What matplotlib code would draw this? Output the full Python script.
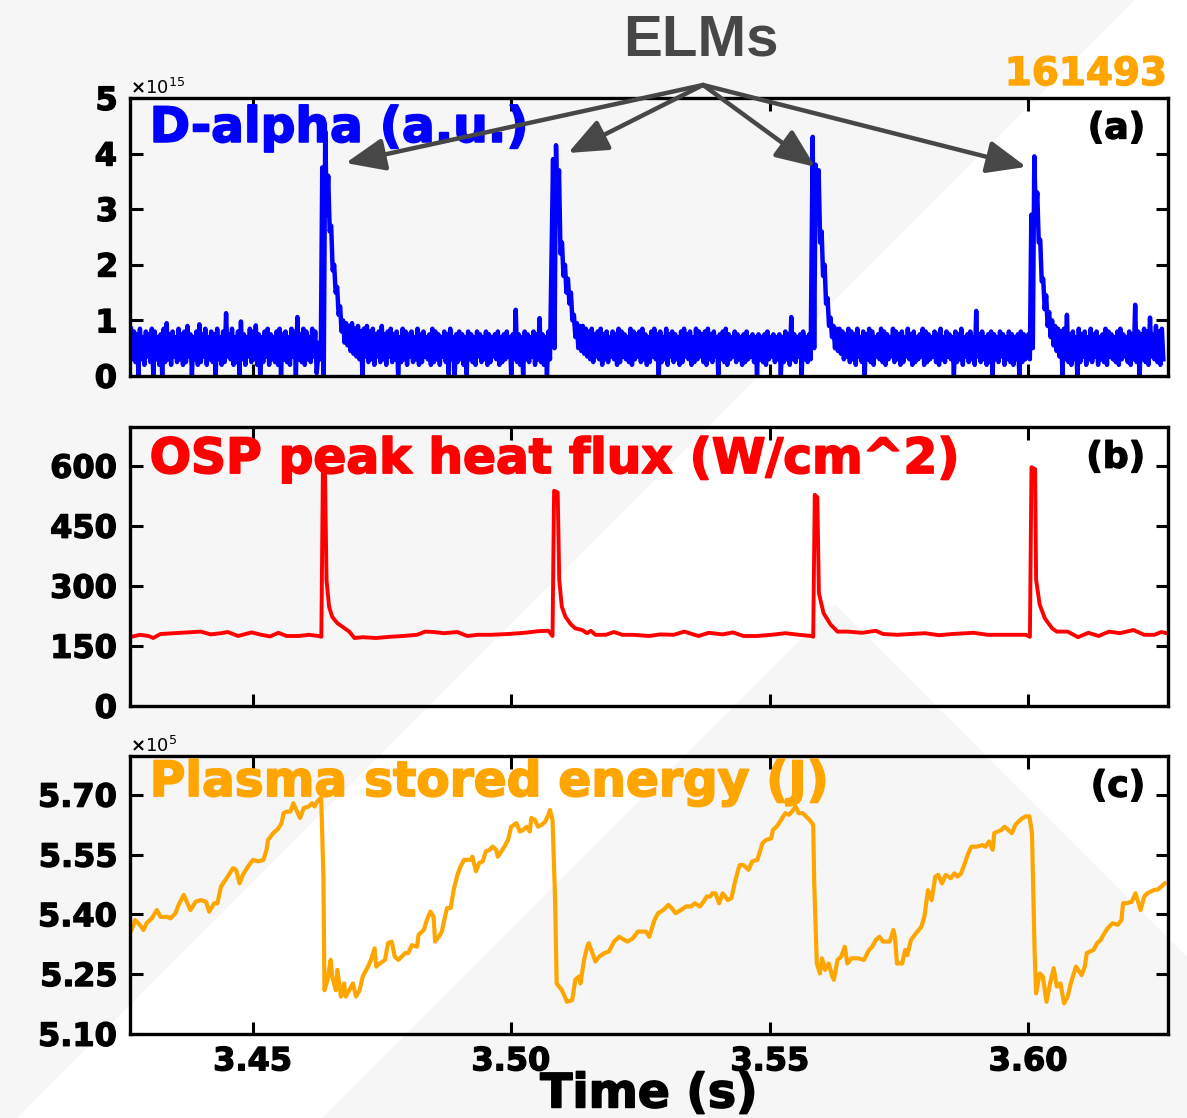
import numpy as np
import matplotlib
matplotlib.use("Agg")
import matplotlib.pyplot as plt
import matplotlib.patheffects as pe
from matplotlib.patches import Polygon

plt.rcParams['font.family'] = 'DejaVu Sans'
plt.rcParams['font.weight'] = 'bold'
plt.rcParams['axes.formatter.use_mathtext'] = True

# --- D-alpha (x1e15, a.u.): upper / lower edge of the fast trace, per segment ---
da_spans = [(3.4265, 3.4624), (3.4629, 3.5075), (3.5081, 3.5579),
            (3.5583, 3.5994), (3.6000, 3.6261)]
da_hi0 = [0.85, 0.80, 0.75, 0.85, 0.70, 0.80, 0.75, 0.85, 0.80, 0.70,
          0.75, 0.85, 0.95, 0.75, 0.80, 0.70, 0.85, 0.75, 0.80, 0.90,
          0.75, 0.70, 0.80, 0.93, 0.75, 0.85, 0.70, 0.80, 0.75, 0.85,
          0.70, 0.80, 1.13, 0.75, 0.85, 0.70, 0.80, 0.98, 0.75, 0.70,
          0.85, 0.80, 0.91, 0.75, 0.70, 0.80, 0.85, 0.75, 0.70, 0.80,
          0.85, 0.75, 0.80, 0.70, 0.85, 0.80, 1.06, 0.75, 0.85, 0.80,
          0.70, 0.85, 0.80]
da_lo0 = [0.30, 0.25, 0.02, 0.30, 0.20, 0.35, 0.25, 0.02, 0.30, 0.20,
          0.02, 0.25, 0.30, 0.20, 0.35, 0.25, 0.30, 0.20, 0.25, 0.35,
          0.02, 0.30, 0.20, 0.25, 0.35, 0.20, 0.30, 0.25, 0.02, 0.30,
          0.20, 0.25, 0.35, 0.30, 0.20, 0.25, 0.02, 0.30, 0.20, 0.35,
          0.25, 0.30, 0.20, 0.02, 0.25, 0.35, 0.20, 0.30, 0.25, 0.20,
          0.02, 0.30, 0.25, 0.20, 0.35, 0.02, 0.30, 0.25, 0.20, 0.30,
          0.25, 0.35, 0.05]
da_hi1 = [0.60, 3.75, 4.40, 3.60, 2.70, 2.00, 1.60, 1.25, 1.00, 0.95,
          0.90, 0.95, 0.85, 0.90, 0.80, 0.85, 0.90, 0.80, 0.85, 0.75,
          0.80, 0.90, 0.75, 0.80, 0.85, 0.75, 0.80, 0.70, 0.85, 0.80,
          0.75, 0.80, 0.70, 0.85, 0.75, 0.80, 0.70, 0.75, 0.85, 0.80,
          0.75, 0.70, 0.80, 0.75, 0.85, 0.70, 0.75, 0.80, 0.75, 0.70,
          0.80, 0.75, 0.70, 0.80, 0.75, 0.70, 0.80, 0.75, 0.70, 0.75,
          0.80, 0.70, 0.75, 0.80, 0.70, 0.75, 1.19, 0.75, 0.70, 0.80,
          0.75, 0.70, 0.80, 0.75, 1.04, 0.75, 0.70, 0.80]
da_lo1 = [0.30, 0.02, 2.90, 2.60, 1.90, 1.50, 1.10, 0.80, 0.60, 0.55,
          0.45, 0.40, 0.35, 0.30, 0.02, 0.35, 0.25, 0.30, 0.20, 0.35,
          0.25, 0.30, 0.20, 0.35, 0.25, 0.30, 0.02, 0.25, 0.30, 0.20,
          0.35, 0.25, 0.30, 0.20, 0.25, 0.35, 0.30, 0.20, 0.25, 0.30,
          0.20, 0.35, 0.25, 0.03, 0.30, 0.02, 0.25, 0.30, 0.20, 0.03,
          0.30, 0.25, 0.20, 0.35, 0.25, 0.30, 0.20, 0.25, 0.35, 0.30,
          0.20, 0.25, 0.30, 0.35, 0.02, 0.30, 0.25, 0.20, 0.02, 0.30,
          0.25, 0.35, 0.20, 0.30, 0.25, 0.20, 0.02, 0.30]
da_hi2 = [3.90, 4.15, 3.70, 2.40, 2.00, 1.75, 1.50, 1.10, 0.95, 0.90,
          0.90, 0.85, 0.80, 0.85, 0.75, 0.80, 0.85, 0.75, 0.80, 0.70,
          0.80, 0.75, 0.85, 0.80, 0.75, 0.70, 0.85, 0.80, 0.75, 0.80,
          0.85, 0.75, 0.70, 0.80, 0.85, 0.75, 0.80, 0.70, 0.85, 0.75,
          0.80, 0.75, 0.70, 0.80, 0.85, 0.75, 0.80, 0.70, 0.85, 0.80,
          0.75, 0.80, 0.85, 0.75, 0.80, 0.70, 0.75, 0.80, 0.85, 0.75,
          0.70, 0.80, 0.75, 0.70, 0.75, 0.80, 0.70, 0.75, 0.70, 0.75,
          0.70, 0.75, 0.80, 0.70, 0.75, 0.70, 0.75, 0.70, 0.80, 0.75,
          1.06, 0.75, 0.70, 0.75, 0.80, 0.70, 0.75]
da_lo2 = [0.50, 3.00, 2.20, 1.80, 1.50, 1.30, 1.00, 0.70, 0.50, 0.45,
          0.40, 0.35, 0.30, 0.25, 0.35, 0.30, 0.20, 0.30, 0.25, 0.35,
          0.30, 0.20, 0.25, 0.35, 0.30, 0.25, 0.20, 0.30, 0.35, 0.25,
          0.30, 0.20, 0.25, 0.35, 0.30, 0.02, 0.25, 0.30, 0.20, 0.35,
          0.25, 0.30, 0.20, 0.25, 0.35, 0.30, 0.20, 0.25, 0.30, 0.35,
          0.25, 0.20, 0.30, 0.25, 0.35, 0.02, 0.30, 0.25, 0.20, 0.30,
          0.35, 0.25, 0.30, 0.20, 0.25, 0.30, 0.35, 0.25, 0.02, 0.30,
          0.25, 0.20, 0.30, 0.35, 0.25, 0.30, 0.02, 0.25, 0.30, 0.20,
          0.30, 0.25, 0.35, 0.02, 0.30, 0.25, 0.30]
da_hi3 = [4.30, 3.80, 3.70, 2.60, 2.00, 1.40, 1.05, 0.90, 0.85, 0.85,
          0.80, 0.75, 0.85, 0.80, 0.75, 0.85, 0.70, 0.80, 0.75, 0.85,
          0.80, 0.70, 0.75, 0.85, 0.80, 0.75, 0.70, 0.85, 0.80, 0.75,
          0.80, 0.70, 0.85, 0.75, 0.80, 0.70, 0.75, 0.85, 0.80, 0.75,
          0.70, 0.80, 0.75, 0.85, 0.70, 0.80, 0.75, 0.70, 0.80, 0.75,
          0.85, 0.70, 0.75, 0.80, 0.70, 1.17, 0.75, 0.80, 0.70, 0.75,
          0.80, 0.75, 0.70, 0.80, 0.75, 0.70, 0.80, 0.75, 0.70, 0.75,
          0.80, 0.75]
da_lo3 = [0.50, 3.00, 2.40, 1.80, 1.30, 0.90, 0.70, 0.50, 0.45, 0.40,
          0.30, 0.35, 0.25, 0.30, 0.20, 0.35, 0.25, 0.02, 0.30, 0.25,
          0.20, 0.35, 0.30, 0.25, 0.20, 0.30, 0.35, 0.25, 0.30, 0.20,
          0.25, 0.35, 0.30, 0.20, 0.25, 0.30, 0.35, 0.20, 0.25, 0.30,
          0.35, 0.25, 0.20, 0.30, 0.25, 0.35, 0.30, 0.02, 0.25, 0.30,
          0.20, 0.35, 0.25, 0.30, 0.20, 0.35, 0.25, 0.30, 0.20, 0.25,
          0.02, 0.30, 0.25, 0.35, 0.20, 0.30, 0.25, 0.20, 0.30, 0.02,
          0.25, 0.30]
da_hi4 = [0.75, 2.90, 3.95, 3.30, 2.45, 1.75, 1.45, 1.15, 1.00, 0.90,
          0.85, 0.80, 0.85, 1.10, 0.75, 0.80, 0.70, 0.85, 0.75, 0.80,
          0.70, 0.85, 0.75, 0.80, 0.70, 0.75, 0.85, 0.80, 0.75, 0.70,
          0.80, 0.85, 0.75, 0.70, 0.80, 0.75, 1.28, 0.80, 0.75, 0.85,
          0.80, 1.05, 0.75, 0.90, 0.80, 0.85]
da_lo4 = [0.30, 0.50, 2.90, 2.40, 1.70, 1.20, 0.90, 0.70, 0.55, 0.45,
          0.35, 0.02, 0.30, 0.25, 0.20, 0.30, 0.02, 0.25, 0.35, 0.20,
          0.30, 0.25, 0.35, 0.20, 0.30, 0.25, 0.20, 0.35, 0.30, 0.25,
          0.20, 0.30, 0.35, 0.25, 0.20, 0.30, 0.25, 0.02, 0.30, 0.25,
          0.20, 0.35, 0.30, 0.25, 0.20, 0.30]
da_hi = [da_hi0, da_hi1, da_hi2, da_hi3, da_hi4]
da_lo = [da_lo0, da_lo1, da_lo2, da_lo3, da_lo4]

# --- OSP peak heat flux (W/cm^2) ---
hf_t = [3.4266, 3.4282, 3.4299, 3.4308, 3.4322, 3.4348, 3.4374, 3.4400, 3.4419, 3.4439,
        3.4452, 3.4472, 3.4498, 3.4517, 3.4534, 3.4550, 3.4566, 3.4589, 3.4609, 3.4628,
        3.4633, 3.4636, 3.4640, 3.4643, 3.4648, 3.4654, 3.4664, 3.4674, 3.4687, 3.4697,
        3.4713, 3.4739, 3.4765, 3.4791, 3.4818, 3.4834, 3.4850, 3.4870, 3.4896, 3.4915,
        3.4935, 3.4961, 3.4994, 3.5026, 3.5052, 3.5072, 3.5080, 3.5083, 3.5090, 3.5093,
        3.5098, 3.5105, 3.5115, 3.5124, 3.5137, 3.5147, 3.5154, 3.5163, 3.5183, 3.5199,
        3.5215, 3.5235, 3.5267, 3.5288, 3.5314, 3.5335, 3.5362, 3.5382, 3.5409, 3.5429,
        3.5449, 3.5476, 3.5503, 3.5530, 3.5557, 3.5581, 3.5584, 3.5587, 3.5592, 3.5595,
        3.5604, 3.5618, 3.5631, 3.5651, 3.5678, 3.5705, 3.5719, 3.5746, 3.5773, 3.5800,
        3.5827, 3.5853, 3.5894, 3.5921, 3.5954, 3.5995, 3.6003, 3.6006, 3.6013, 3.6015,
        3.6022, 3.6032, 3.6046, 3.6055, 3.6076, 3.6096, 3.6116, 3.6136, 3.6156, 3.6177,
        3.6203, 3.6224, 3.6244, 3.6257, 3.6267]
hf_q = [173, 178, 175, 170, 180, 182, 184, 186, 179, 182,
        185, 175, 184, 178, 174, 183, 175, 175, 178, 175,
        173, 595, 592, 315, 248, 223, 207, 198, 186, 170,
        172, 170, 173, 175, 178, 186, 185, 182, 185, 175,
        178, 178, 180, 183, 187, 188, 175, 538, 534, 315,
        248, 223, 205, 194, 190, 182, 188, 178, 178, 185,
        178, 178, 175, 179, 178, 186, 175, 183, 179, 184,
        175, 175, 178, 182, 178, 175, 173, 528, 522, 282,
        232, 203, 186, 186, 183, 188, 180, 178, 180, 182,
        177, 180, 183, 178, 178, 178, 173, 597, 592, 315,
        253, 219, 194, 186, 186, 172, 183, 175, 186, 182,
        190, 178, 178, 185, 182]

# --- Plasma stored energy (x1e5 J) ---
we_t = [3.4266, 3.4273, 3.4282, 3.4289, 3.4295, 3.4305, 3.4315, 3.4322, 3.4335, 3.4341,
        3.4351, 3.4357, 3.4367, 3.4374, 3.4380, 3.4390, 3.4400, 3.4410, 3.4416, 3.4426,
        3.4432, 3.4439, 3.4452, 3.4462, 3.4468, 3.4475, 3.4481, 3.4491, 3.4501, 3.4511,
        3.4521, 3.4527, 3.4530, 3.4540, 3.4547, 3.4550, 3.4556, 3.4560, 3.4566, 3.4573,
        3.4579, 3.4586, 3.4592, 3.4599, 3.4609, 3.4615, 3.4620, 3.4625, 3.4632, 3.4633,
        3.4637, 3.4639, 3.4645, 3.4651, 3.4654, 3.4661, 3.4664, 3.4671, 3.4677, 3.4680,
        3.4687, 3.4694, 3.4700, 3.4707, 3.4713, 3.4723, 3.4729, 3.4736, 3.4739, 3.4746,
        3.4756, 3.4762, 3.4769, 3.4775, 3.4782, 3.4788, 3.4795, 3.4801, 3.4808, 3.4818,
        3.4821, 3.4831, 3.4837, 3.4844, 3.4850, 3.4853, 3.4860, 3.4866, 3.4870, 3.4876,
        3.4883, 3.4889, 3.4896, 3.4902, 3.4909, 3.4915, 3.4922, 3.4925, 3.4932, 3.4938,
        3.4945, 3.4951, 3.4958, 3.4964, 3.4971, 3.4974, 3.4981, 3.4987, 3.4994, 3.5000,
        3.5010, 3.5017, 3.5023, 3.5030, 3.5036, 3.5039, 3.5046, 3.5052, 3.5059, 3.5066,
        3.5072, 3.5075, 3.5080, 3.5085, 3.5088, 3.5098, 3.5108, 3.5118, 3.5124, 3.5131,
        3.5134, 3.5141, 3.5147, 3.5150, 3.5157, 3.5163, 3.5170, 3.5180, 3.5189, 3.5199,
        3.5209, 3.5219, 3.5225, 3.5235, 3.5245, 3.5261, 3.5267, 3.5277, 3.5284, 3.5294,
        3.5304, 3.5311, 3.5318, 3.5328, 3.5338, 3.5348, 3.5355, 3.5365, 3.5372, 3.5378,
        3.5385, 3.5389, 3.5395, 3.5402, 3.5409, 3.5419, 3.5426, 3.5432, 3.5439, 3.5442,
        3.5449, 3.5459, 3.5466, 3.5476, 3.5480, 3.5486, 3.5493, 3.5503, 3.5506, 3.5513,
        3.5520, 3.5530, 3.5537, 3.5543, 3.5550, 3.5556, 3.5564, 3.5570, 3.5577, 3.5584,
        3.5586, 3.5591, 3.5597, 3.5601, 3.5607, 3.5614, 3.5621, 3.5624, 3.5631, 3.5638,
        3.5645, 3.5650, 3.5658, 3.5671, 3.5682, 3.5692, 3.5698, 3.5705, 3.5712, 3.5719,
        3.5727, 3.5732, 3.5739, 3.5742, 3.5746, 3.5756, 3.5762, 3.5766, 3.5773, 3.5783,
        3.5793, 3.5799, 3.5806, 3.5813, 3.5820, 3.5826, 3.5833, 3.5840, 3.5850, 3.5857,
        3.5863, 3.5870, 3.5877, 3.5884, 3.5890, 3.5900, 3.5911, 3.5917, 3.5924, 3.5931,
        3.5934, 3.5941, 3.5948, 3.5954, 3.5961, 3.5968, 3.5975, 3.5981, 3.5988, 3.5995,
        3.6002, 3.6007, 3.6012, 3.6015, 3.6022, 3.6028, 3.6035, 3.6042, 3.6049, 3.6055,
        3.6062, 3.6069, 3.6076, 3.6082, 3.6092, 3.6103, 3.6109, 3.6113, 3.6119, 3.6126,
        3.6133, 3.6140, 3.6143, 3.6153, 3.6163, 3.6173, 3.6180, 3.6183, 3.6190, 3.6200,
        3.6207, 3.6217, 3.6224, 3.6230, 3.6244, 3.6250, 3.6257, 3.6264]
we_w = [5.361, 5.386, 5.374, 5.361, 5.378, 5.390, 5.411, 5.394, 5.394, 5.390,
        5.403, 5.424, 5.449, 5.428, 5.411, 5.432, 5.436, 5.432, 5.407, 5.428,
        5.428, 5.470, 5.495, 5.516, 5.512, 5.478, 5.499, 5.520, 5.537, 5.533,
        5.537, 5.562, 5.587, 5.604, 5.612, 5.616, 5.629, 5.654, 5.658, 5.658,
        5.679, 5.658, 5.642, 5.667, 5.671, 5.679, 5.671, 5.683, 5.692, 5.679,
        5.495, 5.210, 5.236, 5.286, 5.244, 5.210, 5.261, 5.194, 5.227, 5.194,
        5.210, 5.227, 5.194, 5.210, 5.244, 5.269, 5.286, 5.315, 5.269, 5.277,
        5.286, 5.328, 5.332, 5.294, 5.286, 5.294, 5.303, 5.303, 5.323, 5.319,
        5.349, 5.361, 5.386, 5.407, 5.394, 5.332, 5.344, 5.357, 5.382, 5.416,
        5.416, 5.462, 5.499, 5.520, 5.537, 5.537, 5.537, 5.545, 5.508, 5.529,
        5.533, 5.558, 5.562, 5.570, 5.562, 5.545, 5.558, 5.570, 5.587, 5.620,
        5.629, 5.608, 5.612, 5.620, 5.608, 5.642, 5.637, 5.620, 5.625, 5.633,
        5.650, 5.662, 5.637, 5.436, 5.227, 5.210, 5.181, 5.185, 5.236, 5.244,
        5.227, 5.286, 5.319, 5.328, 5.303, 5.282, 5.294, 5.303, 5.307, 5.332,
        5.344, 5.336, 5.332, 5.340, 5.357, 5.357, 5.344, 5.386, 5.403, 5.411,
        5.424, 5.415, 5.403, 5.411, 5.420, 5.420, 5.428, 5.420, 5.432, 5.445,
        5.445, 5.453, 5.453, 5.428, 5.453, 5.436, 5.441, 5.478, 5.512, 5.524,
        5.524, 5.512, 5.533, 5.537, 5.554, 5.579, 5.587, 5.591, 5.612, 5.620,
        5.633, 5.654, 5.650, 5.658, 5.671, 5.654, 5.654, 5.646, 5.637, 5.625,
        5.478, 5.277, 5.252, 5.290, 5.261, 5.277, 5.244, 5.236, 5.286, 5.294,
        5.319, 5.277, 5.290, 5.290, 5.286, 5.311, 5.319, 5.336, 5.344, 5.332,
        5.332, 5.332, 5.361, 5.344, 5.277, 5.277, 5.311, 5.298, 5.336, 5.353,
        5.369, 5.395, 5.461, 5.436, 5.495, 5.499, 5.478, 5.499, 5.491, 5.503,
        5.495, 5.503, 5.528, 5.554, 5.570, 5.570, 5.574, 5.570, 5.583, 5.562,
        5.604, 5.608, 5.612, 5.620, 5.612, 5.604, 5.625, 5.633, 5.641, 5.646,
        5.646, 5.604, 5.311, 5.202, 5.252, 5.244, 5.181, 5.227, 5.265, 5.219,
        5.227, 5.177, 5.194, 5.227, 5.269, 5.248, 5.269, 5.303, 5.307, 5.311,
        5.328, 5.336, 5.344, 5.365, 5.378, 5.374, 5.386, 5.428, 5.428, 5.432,
        5.453, 5.411, 5.445, 5.453, 5.462, 5.462, 5.470, 5.478]

# ELM peaks the arrows point at (time, D-alpha x1e15)
elm_tips = [(3.4680, 3.83), (3.5110, 4.01), (3.5588, 3.76), (3.5996, 3.76)]

xticks = [3.45, 3.50, 3.55, 3.60]
xlim = (3.4263, 3.6270)
grey = '#474747'


def heavy(col, w=1.3):
    return [pe.withStroke(linewidth=w, foreground=col)]


fig = plt.figure(figsize=(11.87, 11.18), dpi=100, facecolor='white')
# faint slide background
fig.add_artist(Polygon([(0, 1), (1135 / 1187, 1), (0, 1 - 1135 / 1118)], closed=True,
                       transform=fig.transFigure, facecolor='#f6f6f6', edgecolor='none', zorder=-10))
fig.add_artist(Polygon([(0.2713, 0), (0.7035, 0.4589), (1, 0.144), (1, 0)], closed=True,
                       transform=fig.transFigure, facecolor='#f6f6f6', edgecolor='none', zorder=-10))

ax_a = fig.add_axes([0.1095, 0.6637, 0.8745, 0.2487])
ax_b = fig.add_axes([0.1095, 0.3685, 0.8745, 0.2496])
ax_c = fig.add_axes([0.1095, 0.0751, 0.8745, 0.2487])

# interleave upper and lower edges into one fast trace per segment
da_t, da_v = [], []
for (a, b), hi, lo in zip(da_spans, da_hi, da_lo):
    v = np.empty(2 * len(hi))
    v[0::2] = hi
    v[1::2] = lo
    da_t.append(np.linspace(a, b, len(v)))
    da_v.append(v)
da_t = np.concatenate(da_t)
da_v = np.concatenate(da_v) * 1e15

ax_a.plot(da_t, da_v, color='#0000ff', lw=3.2)
ax_b.plot(hf_t, hf_q, color='#ff0000', lw=2.8)
ax_c.plot(we_t, np.array(we_w) * 1e5, color='#ffa500', lw=3)

ax_a.set_ylim(0, 5e15)
ax_a.set_yticks([i * 1e15 for i in range(6)])
ax_b.set_ylim(0, 697.5)
ax_b.set_yticks([0, 150, 300, 450, 600])
ax_c.set_ylim(5.10e5, 5.7975e5)
ax_c.set_yticks([5.10e5, 5.25e5, 5.40e5, 5.55e5, 5.70e5])
ax_c.ticklabel_format(axis='y', style='sci', scilimits=(5, 5), useOffset=False, useMathText=True)

titles = ['D-alpha (a.u.)', 'OSP peak heat flux (W/cm^2)', 'Plasma stored energy (J)']
colors = ['#0000ff', '#ff0000', '#ffa500']
title_y = [0.842, 0.835, 0.856]
for ax, lab, title, col, ty in zip([ax_a, ax_b, ax_c], ['(a)', '(b)', '(c)'],
                                   titles, colors, title_y):
    ax.set_facecolor('none')
    ax.set_xlim(*xlim)
    ax.set_xticks(xticks)
    for s in ax.spines.values():
        s.set_linewidth(2.4)
    ax.tick_params(direction='in', length=9, width=2.2, top=True, right=True,
                   labelsize=23, pad=9)
    plt.setp(ax.get_yticklabels() + ax.get_xticklabels(), path_effects=heavy('black', 1.0))
    ax.yaxis.get_offset_text().set_fontsize(13)
    ax.yaxis.get_offset_text().set_fontweight('normal')
    ax.text(0.019, ty, title, transform=ax.transAxes, color=col, fontsize=35,
            fontweight='bold', ha='left', va='baseline', clip_on=False,
            path_effects=heavy(col))
    ax.text(0.978, 0.89, lab, transform=ax.transAxes, fontsize=26,
            fontweight='bold', ha='right', va='center', path_effects=heavy('black', 1.0))

ax_a.tick_params(labelbottom=False)
ax_b.tick_params(labelbottom=False)

for t, v in elm_tips:
    ax_a.annotate('', xy=(t, v * 1e15), xycoords='data',
                  xytext=(0.5923, 0.924), textcoords='figure fraction',
                  arrowprops=dict(arrowstyle='-|>,head_length=1.2,head_width=0.5',
                                  color=grey, lw=3.2, shrinkA=0, shrinkB=0,
                                  mutation_scale=20),
                  annotation_clip=False, zorder=10)

fig.text(0.5906, 0.9508, 'ELMs', family='Liberation Sans', fontsize=42,
         fontweight='bold', color=grey, ha='center', va='baseline')
fig.text(0.9832, 0.924, '161493', fontsize=28, fontweight='bold',
         color='#ffa500', ha='right', va='baseline', path_effects=heavy('#ffa500', 1.0))
fig.text(0.5468, 0.0095, 'Time (s)', fontsize=34, fontweight='bold',
         ha='center', va='baseline', path_effects=heavy('black', 1.2))

fig.savefig('out.png', dpi=100)
